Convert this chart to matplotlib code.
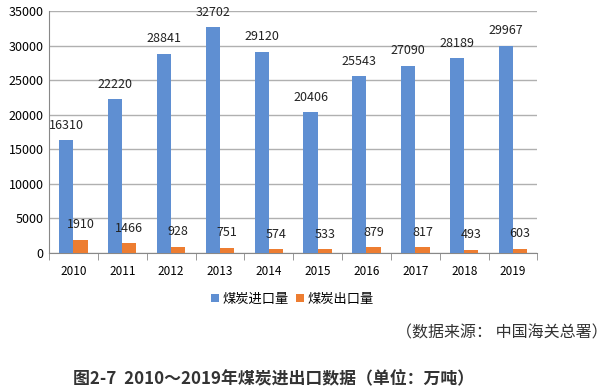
import matplotlib.pyplot as plt
import numpy as np

plt.rcParams['font.family'] = ['Noto Sans CJK SC', 'DejaVu Sans']

years = ['2010', '2011', '2012', '2013', '2014', '2015', '2016', '2017', '2018', '2019']
imports = [16310, 22220, 28841, 32702, 29120, 20406, 25543, 27090, 28189, 29967]
exports = [1910, 1466, 928, 751, 574, 533, 879, 817, 493, 603]

blue = '#5f8fd2'
orange = '#ed7d31'

fig = plt.figure(figsize=(6.09, 3.91), dpi=100)
ax = fig.add_axes([0.0805, 0.353, 0.802, 0.619])

x = np.arange(len(years))
w = 0.29
b1 = ax.bar(x - w / 2, imports, w, color=blue, label='煤炭进口量', zorder=3)
b2 = ax.bar(x + w / 2, exports, w, color=orange, label='煤炭出口量', zorder=3)

# 数据标签
for bars in (b1, b2):
    ax.bar_label(bars, padding=6, fontsize=9, color='#222222')

ax.set_xlim(-0.5, len(years) - 0.5)
ax.set_ylim(0, 35000)
ax.set_yticks(range(0, 35001, 5000))
ax.yaxis.grid(True, color='#b0b0b0', linewidth=1, zorder=0)
ax.set_axisbelow(True)

ax.set_xticks(x)
ax.set_xticklabels(years)
ax.set_xticks(np.arange(-0.5, len(years)), minor=True)
ax.tick_params(axis='x', which='major', length=0, pad=9, labelsize=8.5)
ax.tick_params(axis='x', which='minor', length=5, color='#888888')
ax.tick_params(axis='y', length=0, labelsize=9, pad=4)

for s in ('top', 'right'):
    ax.spines[s].set_visible(False)
ax.spines['left'].set_color('#888888')
ax.spines['bottom'].set_color('#888888')

fig.legend(handles=[b1, b2], loc='center', bbox_to_anchor=(0.48, 0.235),
           ncol=2, frameon=False, fontsize=9.5, handlelength=0.6,
           handleheight=0.6, handletextpad=0.3, columnspacing=0.5)

fig.text(0.997, 0.148, '（数据来源： 中国海关总署）', ha='right', va='center',
         fontsize=11.5, color='#333333')
fig.text(0.12, 0.033, '图2-7  2010～2019年煤炭进出口数据（单位：万吨）', ha='left',
         va='center', fontsize=12.2, fontweight='bold', color='#333333')

fig.savefig('out.png', dpi=100)
